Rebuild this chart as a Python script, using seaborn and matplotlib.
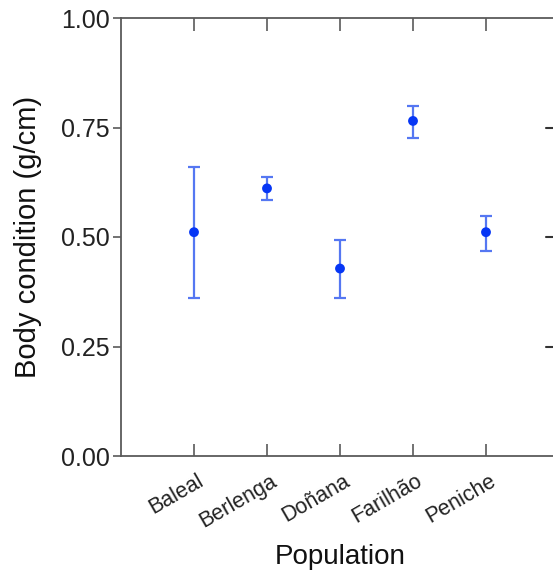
import pandas as pd
import matplotlib.pyplot as plt
import matplotlib.transforms as mtransforms
import seaborn as sns

populations = ["Baleal", "Berlenga", "Doñana", "Farilhão", "Peniche"]
body_condition = [0.511, 0.611, 0.428, 0.765, 0.511]
err_low = [0.151, 0.026, 0.068, 0.039, 0.043]
err_high = [0.149, 0.026, 0.066, 0.035, 0.037]
y_ticks = [0.00, 0.25, 0.50, 0.75, 1.00]

df = pd.DataFrame({"Population": populations, "Body condition": body_condition})

sns.set_theme(style="ticks")
plt.rcParams["font.family"] = ["Liberation Sans", "DejaVu Sans"]

fig = plt.figure(figsize=(5.53, 5.73), dpi=100)
ax = fig.add_axes([121 / 553, 117 / 573, 438 / 553, 438 / 573])

ax.errorbar(range(len(populations)), df["Body condition"],
            yerr=[err_low, err_high], fmt="none", ecolor="#5577f2",
            elinewidth=1.6, capsize=4.5, capthick=1.6, zorder=2)
sns.scatterplot(data=df, x="Population", y="Body condition", ax=ax,
                color="#0636f5", s=50, edgecolor="none", zorder=3)

ax.set_xlim(-1, len(populations))
ax.set_ylim(0, 1)
ax.set_yticks(y_ticks)
ax.set_yticklabels([f"{t:.2f}" for t in y_ticks], fontsize=18)
ax.set_xticks(range(len(populations)))
ax.set_xticklabels([])

# rotated category labels, nudged right of their ticks
shift = mtransforms.ScaledTranslation(0.08, -0.236, fig.dpi_scale_trans)
for i, name in enumerate(populations):
    ax.text(i, 0, name, transform=ax.get_xaxis_transform() + shift,
            fontsize=15.5, rotation=30, ha="right", va="center",
            rotation_mode="anchor", color="#222222")

ax.set_xlabel("Population", fontsize=20, color="#111111", va="top")
ax.xaxis.set_label_coords(0.5, (456 - 544) / 438)
ax.set_ylabel("Body condition (g/cm)", fontsize=21, color="#111111")
ax.yaxis.set_label_coords((42 - 121) / 438, 0.5)

for s in ax.spines.values():
    s.set_color("#5a5a5a")
    s.set_linewidth(1.3)

ax.tick_params(axis="x", direction="in", length=9, width=1.2, color="#5a5a5a",
               top=True)
ax.tick_params(axis="y", direction="out", length=6, width=1.2, color="#5a5a5a",
               pad=2, labelcolor="#222222")

# inner ticks on the right edge
for t in y_ticks[1:-1]:
    ax.plot([len(populations) - 0.18, len(populations)], [t, t],
            color="#333333", lw=1.5, clip_on=False, zorder=1)

fig.savefig("out.png", dpi=100)
